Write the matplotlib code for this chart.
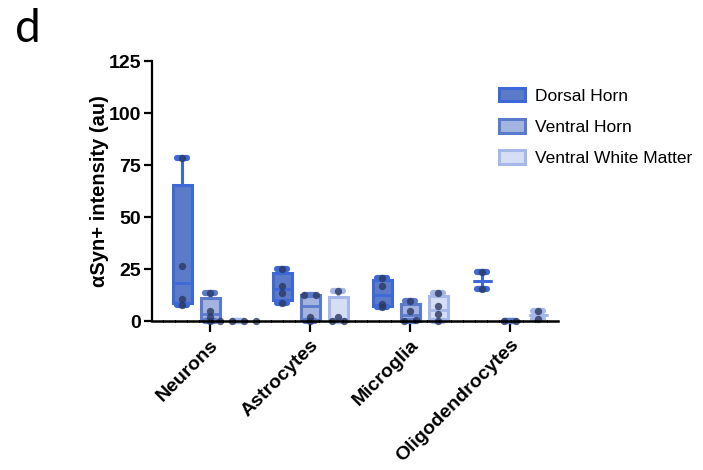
import numpy as np
import matplotlib
matplotlib.use("Agg")
import matplotlib.pyplot as plt
from matplotlib.patches import Patch

plt.rcParams['font.family'] = ['Liberation Sans', 'DejaVu Sans']

# data
cell_types = ["Neurons", "Astrocytes", "Microglia", "Oligodendrocytes"]
regions = ["Dorsal Horn", "Ventral Horn", "Ventral White Matter"]

dorsal_horn = [
    [78.5, 26.6, 10.4, 7.8],
    [25.2, 17.0, 13.6, 8.8],
    [20.5, 17.0, 8.4, 6.9],
    [23.7, 15.2],
]
ventral_horn = [
    [13.3, 4.8, 2.1, 0.2],
    [12.5, 12.4, 2.1, 0.0],
    [9.6, 4.8, 0.6, 0.0],
    [0.0, 0.0],
]
ventral_white = [
    [0.0, 0.0, 0.0, 0.0],
    [14.6, 1.8, 0.1, 0.0],
    [13.7, 7.2, 3.4, 0.0],
    [4.8, 1.0],
]

edge_colors = ["#3d68d8", "#5a7acc", "#a6b7ea"]
fill_colors = ["#5b7bc8", "#a4b4e0", "#d6def4"]
offsets = [-0.28, 0.0, 0.28]

fig = plt.figure(figsize=(7.03, 4.70), dpi=100)
ax = fig.add_axes([152 / 703, 1 - 321 / 470, 406 / 703, 260 / 470])


def box_stats(vals):
    v = np.array(vals)
    med = np.median(v)
    if len(v) >= 3:
        q1 = np.percentile(v, 25, method="weibull")
        q3 = np.percentile(v, 75, method="weibull")
    else:
        q1 = q3 = med
    return dict(med=med, q1=q1, q3=q3, whislo=v.min(), whishi=v.max(), fliers=[])


groups = [dorsal_horn, ventral_horn, ventral_white]
for g, series in enumerate(groups):
    stats = [box_stats(vals) for vals in series]
    pos = [i + offsets[g] for i in range(len(cell_types))]
    ec = edge_colors[g]
    ax.bxp(stats, positions=pos, widths=0.19, patch_artist=True,
           showfliers=False,
           boxprops=dict(facecolor=fill_colors[g], edgecolor=ec, linewidth=2.2),
           medianprops=dict(color=ec, linewidth=2.0),
           whiskerprops=dict(color=ec, linewidth=2.2),
           capprops=dict(color=ec, linewidth=4.5, solid_capstyle="round"),
           capwidths=0.1, manage_ticks=False)
    # individual points, spread a little when values overlap
    for i, vals in enumerate(series):
        v = sorted(vals)
        xs = []
        for k, y in enumerate(v):
            close = [j for j in range(len(v)) if abs(v[j] - y) < 1.5]
            if len(close) > 1:
                idx = close.index(k)
                xs.append(pos[i] + (idx - (len(close) - 1) / 2) * 0.12)
            else:
                xs.append(pos[i])
        ax.scatter(xs, v, s=28, color="#2b3960", alpha=0.8, zorder=5,
                   clip_on=False, linewidths=0)

for art in ax.get_children():
    try:
        art.set_clip_on(False)
    except Exception:
        pass

ax.set_xlim(-0.58, 3.48)
ax.set_ylim(0, 125)
ax.set_yticks([0, 25, 50, 75, 100, 125])
ax.set_xticks(range(len(cell_types)))
ax.set_xticklabels(cell_types, rotation=45, ha="right", rotation_mode="anchor",
                   fontsize=14, fontweight="bold")
for lbl in ax.get_yticklabels():
    lbl.set_fontweight("bold")
    lbl.set_fontsize(14)
ax.tick_params(axis="both", direction="out", length=6, width=1.6, pad=2)
ax.tick_params(axis="x", length=8, pad=3)

ax.spines["top"].set_visible(False)
ax.spines["right"].set_visible(False)
ax.spines["left"].set_linewidth(1.6)
ax.spines["bottom"].set_linewidth(1.8)
ax.spines["bottom"].set_linestyle((0, (4, 0.8)))
ax.spines["left"].set_zorder(6)
ax.spines["bottom"].set_zorder(6)

ax.set_ylabel("αSyn+ intensity (au)", fontsize=14.5, fontweight="bold")
ax.yaxis.set_label_coords(-0.105, 0.5)

handles = [Patch(facecolor=fill_colors[g], edgecolor=edge_colors[g], linewidth=2.2,
                 label=regions[g]) for g in range(3)]
fig.legend(handles=handles, loc="upper left", bbox_to_anchor=(483 / 703, 1 - 72 / 470),
           frameon=False, fontsize=12.5, handlelength=1.5, handleheight=0.85,
           handletextpad=0.6, labelspacing=0.88)

fig.text(15 / 703, 1 - 8 / 470, "d", fontsize=33, va="top", ha="left",
         family=["Lato", "DejaVu Sans"])

fig.savefig("out.png", dpi=100)
